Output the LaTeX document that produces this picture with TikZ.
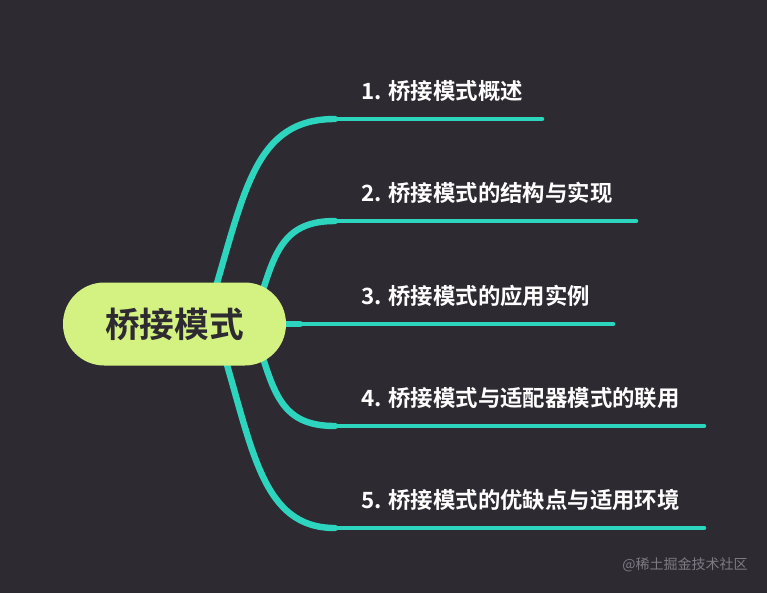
\documentclass[tikz,border=0pt]{standalone}
\usepackage{fontspec}
\newfontfamily\cjk{Noto Sans CJK SC}
\newfontfamily\cjkb{Noto Sans CJK SC Bold}
\definecolor{bg}{HTML}{2D2A32}
\definecolor{teal}{HTML}{2DD4BE}
\definecolor{rootfill}{HTML}{D3F281}
\definecolor{roottext}{HTML}{2D2A32}
\definecolor{wm}{HTML}{7E7B84}
\tikzset{
  curvebranch/.style={draw=teal, line width=4.8pt, line cap=round},
  flatbranch/.style={draw=teal, line width=3.4pt, line cap=round},
  rootnode/.style={fill=rootfill, rounded corners=31pt, minimum width=167.25pt, minimum height=62.25pt, inner sep=0pt, font=\cjkb\fontsize{26}{30}\selectfont, text=roottext},
  topic/.style={anchor=base west, inner sep=0pt, text=white, font=\cjkb\fontsize{16.8}{20}\selectfont},
}
\begin{document}
\begin{tikzpicture}[x=0.75pt, y=-0.75pt]
\fill[bg] (0,0) rectangle (767,593);
\useasboundingbox (0,0) rectangle (767,593);

% junctions and ends
\coordinate (s1) at (212,300);
\coordinate (s2) at (260,300);
\coordinate (s3) at (250,324);
\coordinate (s4) at (260,348);
\coordinate (s5) at (222,348);
\coordinate (j1) at (335,119);
\coordinate (j2) at (335,221);
\coordinate (j3) at (335,324);
\coordinate (j4) at (335,426);
\coordinate (j5) at (335,528);
\coordinate (e1) at (542,119);
\coordinate (e2) at (636,221);
\coordinate (e3) at (613,324);
\coordinate (e4) at (704,426);
\coordinate (e5) at (704,528);

\draw[curvebranch] (s1) .. controls (245,190) and (255,119) .. (j1);
\draw[curvebranch] (s2) .. controls (275,250) and (285,221) .. (j2);
\draw[curvebranch] (s3) -- (300,324);
\draw[flatbranch] (300,324) -- (j3);
\draw[curvebranch] (s4) .. controls (275,398) and (285,426) .. (j4);
\draw[curvebranch] (s5) .. controls (253,450) and (262,528) .. (j5);

\draw[flatbranch] (j1) -- (e1);
\draw[flatbranch] (j2) -- (e2);
\draw[flatbranch] (j3) -- (e3);
\draw[flatbranch] (j4) -- (e4);
\draw[flatbranch] (j5) -- (e5);

\node[rootnode] (root) at (174.5,324) {桥接模式};

\node[topic] (t1) at (361,99) {1. 桥接模式概述};
\node[topic] (t2) at (361,201) {2. 桥接模式的结构与实现};
\node[topic] (t3) at (361,304) {3. 桥接模式的应用实例};
\node[topic] (t4) at (361,406) {4. 桥接模式与适配器模式的联用};
\node[topic] (t5) at (361,508) {5. 桥接模式的优缺点与适用环境};

\node[anchor=east, inner sep=0pt, text=wm, font=\cjk\fontsize{10.5}{12}\selectfont] (wm) at (748,565) {@稀土掘金技术社区};
\end{tikzpicture}
\end{document}
